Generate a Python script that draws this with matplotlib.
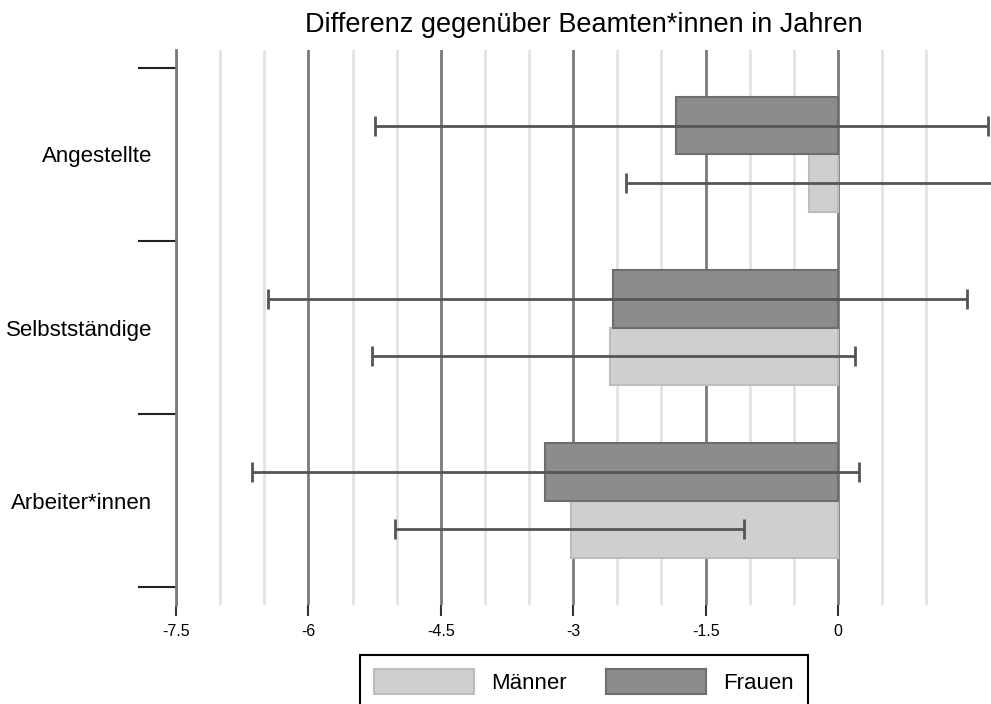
import numpy as np
import matplotlib
matplotlib.use("Agg")
import matplotlib.pyplot as plt
from matplotlib.patches import Patch

plt.rcParams['font.family'] = ['Liberation Sans', 'DejaVu Sans']

# Daten (Differenz gegenüber Beamten*innen in Jahren)
categories = ['Arbeiter*innen', 'Selbstständige', 'Angestellte']
frauen = [-3.32, -2.55, -1.83]
frauen_lo = [-6.64, -6.46, -5.25]
frauen_hi = [0.24, 1.46, 1.70]
maenner = [-3.02, -2.58, -0.33]
maenner_lo = [-5.02, -5.28, -2.40]
maenner_hi = [-1.06, 0.19, 1.90]

major_ticks = [-7.5, -6, -4.5, -3, -1.5, 0]
minor_grid = [-7, -6.5, -5.5, -5, -4, -3.5, -2.5, -2, -1, -0.5, 0.5, 1.0]

fig = plt.figure(figsize=(9.91, 7.04), dpi=100)
ax = fig.add_axes([176 / 991, 1 - 605 / 704, 1 - 176 / 991, (605 - 50) / 704])

y = np.arange(len(categories))
h = 0.33
off = 0.165

for g in minor_grid:
    ax.axvline(g, color='#e3e3e3', lw=2, zorder=0)
for g in major_ticks:
    ax.axvline(g, color='#7a7a7a', lw=2, zorder=0)

ax.barh(y - off, maenner, height=h, color='#cfcfcf', edgecolor='#bdbdbd', lw=1.5,
        label='Männer', zorder=2)
ax.barh(y + off, frauen, height=h, color='#8c8c8c', edgecolor='#6e6e6e', lw=1.5,
        label='Frauen', zorder=2)

m = np.array(maenner)
f = np.array(frauen)
ax.errorbar(m, y - off, xerr=[m - np.array(maenner_lo), np.array(maenner_hi) - m],
            fmt='none', ecolor='#555555', elinewidth=2, capsize=7.5, capthick=2, zorder=3)
ax.errorbar(f, y + off, xerr=[f - np.array(frauen_lo), np.array(frauen_hi) - f],
            fmt='none', ecolor='#555555', elinewidth=2, capsize=7.5, capthick=2, zorder=3)

ax.set_xlim(-7.5, 1.733)
ax.set_ylim(-0.604, 2.604)

for s in ['top', 'right', 'bottom']:
    ax.spines[s].set_visible(False)
ax.spines['left'].set_color('#7a7a7a')
ax.spines['left'].set_linewidth(2)

ax.set_xticks(major_ticks)
ax.set_xticklabels(['-7.5', '-6', '-4.5', '-3', '-1.5', '0'])
ax.tick_params(axis='x', length=8, width=1.5, color='#333333', pad=6, labelsize=11.5)

ax.set_yticks(y)
ax.set_yticklabels(categories)
ax.set_yticks([-0.5, 0.5, 1.5, 2.5], minor=True)
ax.tick_params(axis='y', which='major', length=0, pad=17, labelsize=16)
ax.tick_params(axis='y', which='minor', length=27.5, width=1.5, color='#222222')

ax.set_title('Differenz gegenüber Beamten*innen in Jahren', fontsize=19.5, pad=13)

handles = [Patch(facecolor='#cfcfcf', edgecolor='#bdbdbd', lw=1.5, label='Männer'),
           Patch(facecolor='#8c8c8c', edgecolor='#6e6e6e', lw=1.5, label='Frauen')]
leg = fig.legend(handles=handles, loc='upper center', ncol=2,
                 bbox_to_anchor=(584 / 991, 1 - 655 / 704), fontsize=16,
                 handlelength=4.5, handleheight=1.3, handletextpad=0.77,
                 columnspacing=1.75, borderpad=0.65, borderaxespad=0, fancybox=False,
                 edgecolor='black', framealpha=1)
leg.get_frame().set_linewidth(1.5)

fig.savefig('out.png', dpi=100)
